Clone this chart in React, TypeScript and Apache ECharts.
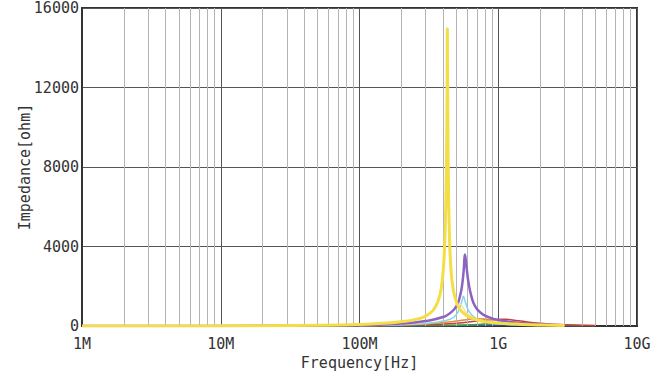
import React, { useEffect, useRef } from "react";
import * as echarts from "echarts";

// Frequency [Hz] / impedance [ohm]
const yellowFreq = [1e6, 1e7, 5e7, 1e8, 1.5e8, 2e8, 2.5e8, 3e8, 3.4e8, 3.7e8, 3.9e8, 4.05e8, 4.15e8, 4.22e8, 4.27e8, 4.3e8, 4.33e8, 4.38e8, 4.45e8, 4.55e8, 4.7e8, 5e8, 5.5e8, 6.5e8, 8e8, 1e9, 1.5e9, 2e9, 3e9];
const yellowVal = [5, 10, 40, 80, 140, 220, 320, 500, 800, 1300, 2000, 3200, 5000, 7500, 11000, 14950, 11000, 7000, 4500, 3000, 2000, 1200, 700, 400, 220, 150, 80, 50, 30];

const paleYellowFreq = [1e6, 1e8, 2e8, 3e8, 4e8, 4.6e8, 5e8, 5.3e8, 5.6e8, 6e8, 7e8, 8e8, 1e9, 1.5e9, 2e9, 3e9];
const paleYellowVal = [0, 30, 90, 200, 420, 700, 950, 1100, 900, 600, 330, 220, 140, 70, 45, 20];

const purpleFreq = [1e6, 1e7, 1e8, 2e8, 3e8, 4e8, 4.5e8, 5e8, 5.3e8, 5.5e8, 5.65e8, 5.75e8, 5.9e8, 6.1e8, 6.4e8, 6.8e8, 7.5e8, 8.5e8, 1e9, 1.3e9, 2e9, 3e9];
const purpleVal = [0, 5, 40, 120, 250, 450, 650, 1000, 1500, 2100, 2900, 3600, 3000, 2200, 1500, 1000, 650, 450, 300, 180, 80, 40];

const cyanFreq = [1e8, 2e8, 3e8, 4e8, 4.8e8, 5.2e8, 5.5e8, 5.6e8, 5.8e8, 6.2e8, 7e8, 8e8, 1e9, 2e9];
const cyanVal = [20, 60, 120, 250, 450, 800, 1300, 1500, 1200, 700, 350, 200, 100, 30];

const orangeFreq = [1e8, 2e8, 3e8, 4e8, 5e8, 6e8, 7e8, 8e8, 1e9, 1.5e9, 2e9, 3e9];
const orangeVal = [10, 50, 100, 170, 250, 330, 370, 350, 280, 150, 80, 30];

const redFreq = [1e8, 3e8, 5e8, 7e8, 9e8, 1.1e9, 1.4e9, 2e9, 3e9, 5e9];
const redVal = [10, 60, 140, 250, 330, 340, 260, 140, 60, 20];

const greenFreq = [1e8, 5e8, 1e9, 1.5e9, 2e9, 3e9, 5e9];
const greenVal = [5, 40, 120, 130, 90, 40, 10];

const blueFreq = [1e8, 5e8, 1e9, 2e9, 4e9];
const blueVal = [5, 30, 60, 40, 10];

const decades = [1e6, 1e7, 1e8, 1e9];
const minorMultipliers = [2, 3, 4, 5, 6, 7, 8, 9];
const xTickLabels: Record<string, string> = { "1000000": "1M", "10000000": "10M", "100000000": "100M", "1000000000": "1G", "10000000000": "10G" };
const yTicks = [0, 4000, 8000, 12000, 16000];

const zip = (f: number[], v: number[]) => f.map((x, i) => [x, v[i]]);

export default function App() {
  const ref = useRef<HTMLDivElement>(null);
  useEffect(() => {
    const chart = echarts.init(ref.current!, null, { renderer: "svg" });
    const minorLines: any[] = [];
    decades.forEach((d) => minorMultipliers.forEach((m) => minorLines.push({ xAxis: d * m })));
    const line = (name: string, data: number[][], color: string, width: number, z: number) => ({
      name, type: "line", data, symbol: "none", smooth: true, z,
      lineStyle: { color, width }, itemStyle: { color },
    });
    const font = "DejaVu Sans Mono";
    chart.setOption({
      animation: false,
      grid: { left: 82, right: 22, top: 8, bottom: 52, show: true, borderColor: "#333", borderWidth: 2, backgroundColor: "#fff" },
      xAxis: {
        type: "log", logBase: 10, min: 1e6, max: 1e10,
        name: "Frequency[Hz]", nameLocation: "middle", nameGap: 29, nameMoveOverlap: false,
        nameTextStyle: { fontFamily: font, fontSize: 15, color: "#333" },
        axisLine: { show: true, lineStyle: { color: "#333", width: 2 } },
        axisTick: { show: false },
        axisLabel: {
          margin: 10, fontFamily: font, fontSize: 15, color: "#333",
          formatter: (v: number) => xTickLabels[String(Math.round(v))] ?? "",
        },
        splitLine: { show: true, lineStyle: { color: "#555", width: 1 } },
      },
      yAxis: {
        type: "value", min: 0, max: 16000, interval: 4000,
        name: "Impedance[ohm]", nameLocation: "middle", nameGap: 50, nameMoveOverlap: false,
        nameTextStyle: { fontFamily: font, fontSize: 15, color: "#333" },
        axisLine: { show: true, lineStyle: { color: "#333", width: 2 } },
        axisTick: { show: false },
        axisLabel: { margin: 3, fontFamily: font, fontSize: 15, color: "#333",
          formatter: (v: number) => (yTicks.includes(v) ? String(v) : "") },
        splitLine: { show: true, lineStyle: { color: "#555", width: 1 } },
      },
      series: [
        {
          type: "line", data: [], silent: true, z: 1,
          markLine: {
            silent: true, symbol: "none", animation: false,
            label: { show: false },
            lineStyle: { color: "#b4b4b4", width: 1, type: "solid" },
            data: minorLines,
          },
        },
        line("blue", zip(blueFreq, blueVal), "#4a6ad0", 1.5, 3),
        line("green", zip(greenFreq, greenVal), "#3c9c3c", 1.5, 3),
        line("red", zip(redFreq, redVal), "#c43c3c", 1.5, 4),
        line("orange", zip(orangeFreq, orangeVal), "#e48a30", 1.5, 4),
        line("cyan", zip(cyanFreq, cyanVal), "#86d4f0", 1.5, 5),
        line("paleYellow", zip(paleYellowFreq, paleYellowVal), "#f2e89a", 1.5, 5),
        line("purple", zip(purpleFreq, purpleVal), "#8c62c4", 2.5, 6),
        line("yellow", zip(yellowFreq, yellowVal), "#f4de46", 3, 7),
      ],
    });
    return () => chart.dispose();
  }, []);
  return <div ref={ref} style={{ width: 659, height: 378, position: "absolute", left: 0, top: 0 }} />;
}
